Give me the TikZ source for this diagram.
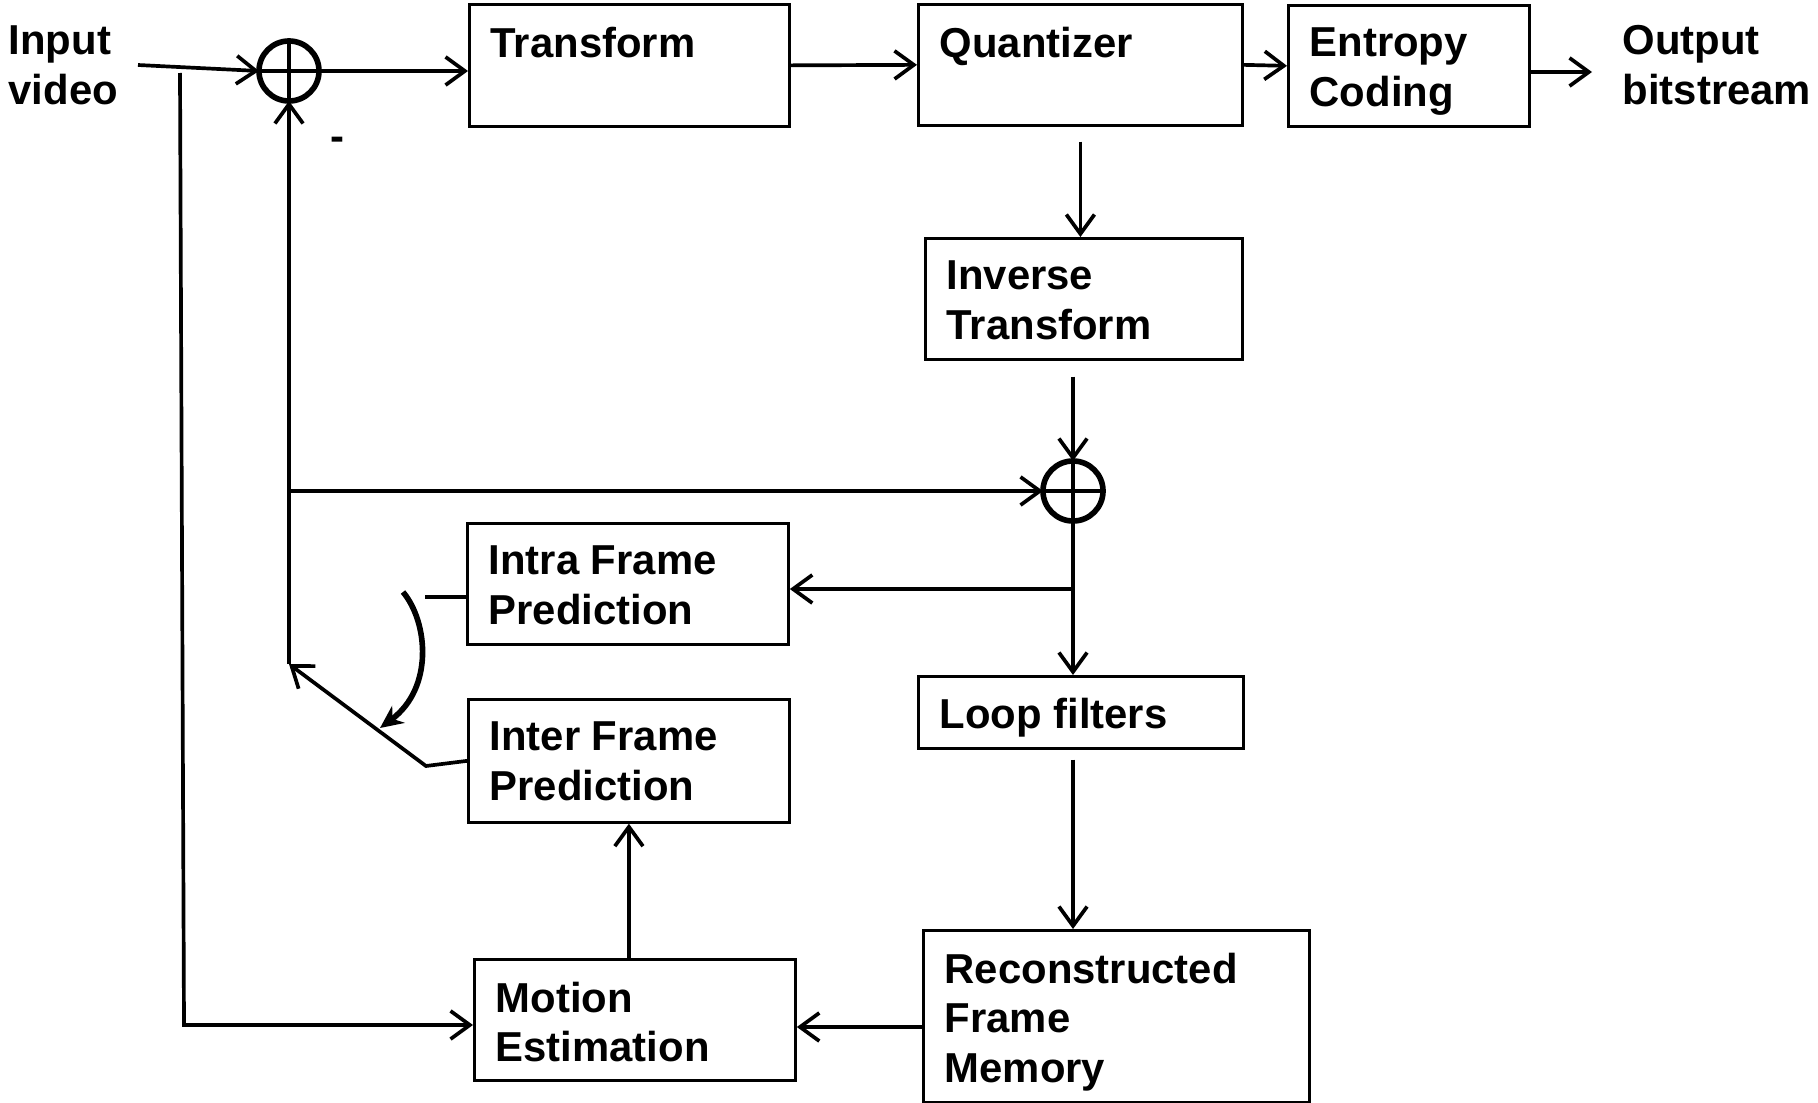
\documentclass[tikz,border=0pt]{standalone}
\usepackage{fontspec}
\setmainfont{Liberation Sans}
\usetikzlibrary{calc,arrows.meta}

\begin{document}
\begin{tikzpicture}[x=0.01cm,y=-0.01cm,
		blk/.style={draw,line width=0.75pt,inner sep=0,anchor=north west},
		lbl/.style={anchor=north west,inner sep=0,align=left,font=\bfseries\fontsize{11.9}{14.2}\selectfont},
		sum/.style={draw,circle,line width=1.6pt,minimum size=0.6cm,inner sep=0,outer sep=0},
		plus/.style={line width=1.1pt},
		flow/.style={line width=1.05pt,-{Straight Barb[length=5.5pt,width=8pt]}},
		wire/.style={line width=1.05pt},
		swing/.style={line width=1.6pt,-{Stealth[length=6.5pt,width=6pt]}}]
		\useasboundingbox (0,0) rectangle (1818,1103);
		% outside texts
		\node[lbl] (invid) at (8,25) {Input\\video};
		\node[lbl] (outbs) at (1622,25) {Output\\bitstream};
		% summing points
		\node[sum] (s1) at (289,71) {};
		\node[sum] (s2) at (1073,491) {};
		\draw[plus] (s1.north) -- (s1.south) (s1.west) -- (s1.east);
		\draw[plus] (s2.north) -- (s2.south) (s2.west) -- (s2.east);
		\node[lbl] (minus) at (330,136) {-};
		% blocks
		\node[blk,minimum width=3.20cm,minimum height=1.22cm] (tr) at (468,3) {};
		\node[lbl] (trt) at ($(tr.north west)+(22,23)$) {Transform};
		\node[blk,minimum width=3.24cm,minimum height=1.21cm] (qu) at (917,3) {};
		\node[lbl] (qut) at ($(qu.north west)+(22,23)$) {Quantizer};
		\node[blk,minimum width=2.41cm,minimum height=1.21cm] (ec) at (1287,4) {};
		\node[lbl] (ect) at ($(ec.north west)+(22,23)$) {Entropy\\Coding};
		\node[blk,minimum width=3.17cm,minimum height=1.21cm] (it) at (924,237) {};
		\node[lbl] (itt) at ($(it.north west)+(22,23)$) {Inverse\\Transform};
		\node[blk,minimum width=3.21cm,minimum height=1.21cm] (intra) at (466,522) {};
		\node[lbl] (intrat) at ($(intra.north west)+(22,23)$) {Intra Frame\\Prediction};
		\node[blk,minimum width=3.25cm,minimum height=0.72cm] (lf) at (917,675) {};
		\node[lbl] (lft) at ($(lf.north west)+(22,22)$) {Loop filters};
		\node[blk,minimum width=3.21cm,minimum height=1.23cm] (inter) at (467,698) {};
		\node[lbl] (intert) at ($(inter.north west)+(22,23)$) {Inter Frame\\Prediction};
		\node[blk,minimum width=3.21cm,minimum height=1.21cm] (me) at (473,958) {};
		\node[lbl] (met) at ($(me.north west)+(22,23)$) {Motion\\Estimation};
		\node[blk,minimum width=3.86cm,minimum height=1.72cm] (rfm) at (922,929) {};
		\node[lbl] (rfmt) at ($(rfm.north west)+(22,23)$) {Reconstructed\\Frame\\Memory};
		% free ends and corners
		\coordinate (inA) at (138,65);
		\coordinate (outA) at (1592,72);
		\coordinate (tapA) at (180,73);
		\coordinate (tapB) at (184,1025);
		\coordinate (sw) at (289,664);
		\coordinate (br) at (1073,589);
		\coordinate (rm) at (922,1027);
		\coordinate (ia) at (425,597);
		\coordinate (ib) at (426,766);
		% forward path
		\draw[flow] (inA) -- (s1.west);
		\draw[flow] (s1.east) -- (s1.east -| tr.west);
		\draw[flow] (tr.east) -- (qu.west);
		\draw[flow] (qu.east) -- (ec.west);
		\draw[flow] (ec.east |- outA) -- (outA);
		\draw[flow] ($(qu.south)+(0,15)$) -- (it.north -| qu.south);
		\draw[flow] ($(it.south -| s2.north)+(0,16)$) -- (s2.north);
		\draw[flow] (s2.south) -- (lf.north -| s2.south);
		\draw[flow] (br) -- (br -| intra.east);
		\draw[flow] ($(lf.south -| s2.south)+(0,10)$) -- (rfm.north -| s2.south);
		\draw[flow] (rm) -- (rm -| me.east);
		\draw[flow] (me.north -| inter.south) -- (inter.south);
		% input to motion estimation
		\draw[flow] (tapA) -- (tapB) -- (tapB -| me.west);
		% prediction feedback
		\draw[flow] (sw) -- (s1.south);
		\draw[flow] (sw |- s2.west) -- (s2.west);
		\draw[wire] (ia) -- (ia -| intra.west);
		\draw[flow] (inter.west) -- (ib) -- (sw);
		\draw[swing] (403,592) .. controls (428,622) and (434,688) .. (380,728);
\end{tikzpicture}
\end{document}
